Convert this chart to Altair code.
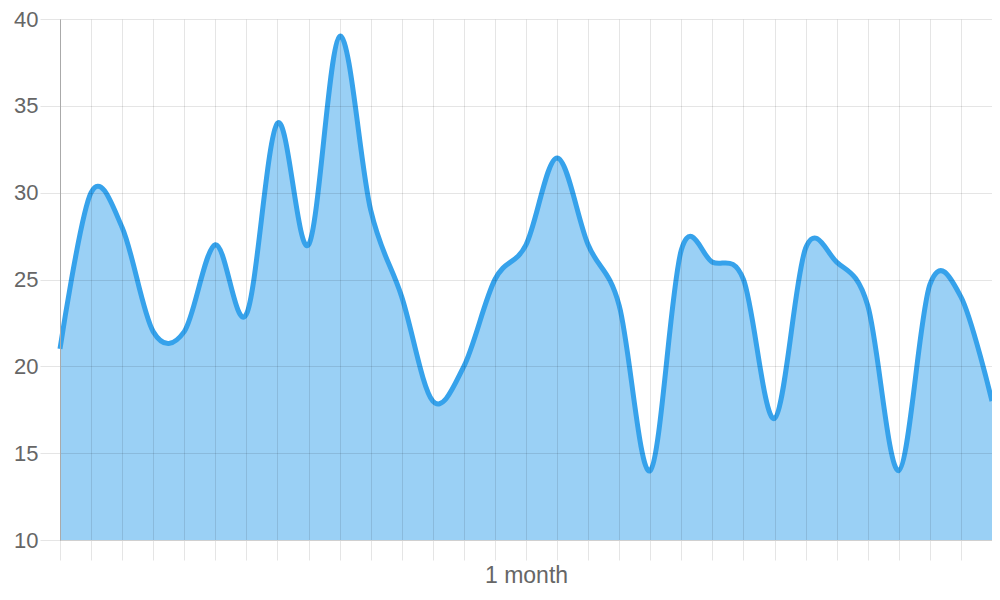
import altair as alt
import pandas as pd

# day index along the month (one point per vertical gridline)
days = list(range(31))
values = [21, 30, 28, 22, 22, 27, 23, 34, 27, 39,
          29, 24, 18, 20, 25, 27, 32, 27, 23.5, 14,
          26.7, 26, 25, 17, 26.8, 26, 23.5, 14, 24.7, 24, 18]
x_label_day = 15
x_label_text = "1 month"
y_ticks = [10, 15, 20, 25, 30, 35, 40]

df = pd.DataFrame({"day": days, "value": values})

LINE = "#36A2EB"
GRID = "rgba(0,0,0,0.1)"
LABEL = "#666666"
FONT = "Liberation Sans"

x_enc = alt.X(
    "day:Q",
    scale=alt.Scale(domain=[0, 30], nice=False, zero=False),
    axis=alt.Axis(
        values=days,
        labelExpr=f"datum.value == {x_label_day} ? '{x_label_text}' : ''",
        title=None,
        grid=True,
        gridColor=GRID,
        gridWidth=1,
        domainColor="#d0d0d0",
        tickColor=GRID,
        tickSize=20,
        labelPadding=4,
        labelFontSize=23,
        labelColor=LABEL,
        labelFont=FONT,
        labelOverlap=False,
        labelFlush=False,
        zindex=1,
    ),
)
y_enc = alt.Y(
    "value:Q",
    scale=alt.Scale(domain=[10, 40], nice=False, zero=False),
    axis=alt.Axis(
        values=y_ticks,
        title=None,
        grid=True,
        gridColor=GRID,
        gridWidth=1,
        domainColor="#aaaaaa",
        tickColor=GRID,
        tickSize=20,
        labelPadding=2,
        labelFontSize=22,
        labelColor=LABEL,
        labelFont=FONT,
        zindex=1,
    ),
)

area = alt.Chart(df).mark_area(
    interpolate="cardinal", color=LINE, opacity=0.5
).encode(x=x_enc, y=y_enc, y2=alt.datum(10))

line = alt.Chart(df).mark_line(
    interpolate="cardinal", color=LINE, strokeWidth=5
).encode(x=x_enc, y=y_enc)

chart = (
    alt.layer(area, line)
    .properties(
        width=932,
        height=521,
        autosize=alt.AutoSizeParams(type="none"),
        padding={"left": 52, "top": 11, "right": 0, "bottom": 46},
    )
    .configure_view(stroke=None)
)

chart.save("out.html", embed_options={"renderer": "svg", "actions": False})
